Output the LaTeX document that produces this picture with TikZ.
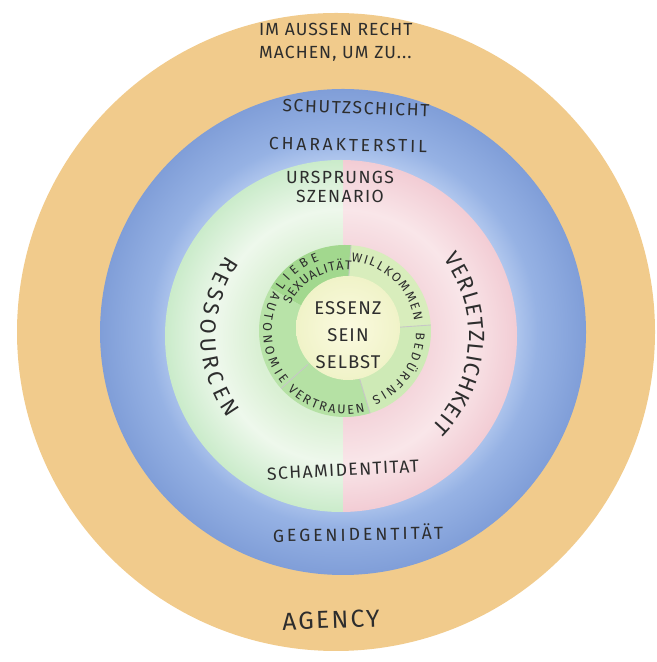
\documentclass[tikz,border=0pt]{standalone}
\usepackage{fontspec}
\setmainfont{Fira Sans}
\usetikzlibrary{decorations.text}

\definecolor{ink}{RGB}{45,45,45}
\definecolor{orangeband}{RGB}{241,203,140}
\definecolor{bluedark}{RGB}{128,158,216}
\definecolor{bluemid}{RGB}{150,178,228}
\definecolor{bluelight}{RGB}{178,200,238}
\definecolor{greenedge}{RGB}{202,235,202}
\definecolor{greenwhite}{RGB}{238,248,236}
\definecolor{greenpale}{RGB}{218,240,212}
\definecolor{pinkedge}{RGB}{242,204,212}
\definecolor{pinkwhite}{RGB}{249,230,233}
\definecolor{pinkpale}{RGB}{244,213,219}
\definecolor{ringgreen}{RGB}{184,227,168}
\definecolor{ringdark}{RGB}{162,216,142}
\definecolor{ringlight}{RGB}{216,237,188}
\definecolor{coreyellow}{RGB}{240,243,200}
\definecolor{corelight}{RGB}{251,250,224}

\pgfdeclareradialshading{blueband}{\pgfpoint{0bp}{0bp}}{%
  color(0bp)=(bluelight); color(17.5bp)=(bluelight); color(20bp)=(bluemid);
  color(25bp)=(bluedark); color(50bp)=(bluedark)}
\pgfdeclareradialshading{greenband}{\pgfpoint{0bp}{0bp}}{%
  color(0bp)=(greenpale); color(12bp)=(greenpale); color(18bp)=(greenwhite);
  color(25bp)=(greenedge); color(50bp)=(greenedge)}
\pgfdeclareradialshading{pinkband}{\pgfpoint{0bp}{0bp}}{%
  color(0bp)=(pinkpale); color(12bp)=(pinkpale); color(18bp)=(pinkwhite);
  color(25bp)=(pinkedge); color(50bp)=(pinkedge)}

\begin{document}
\begin{tikzpicture}[
    x=0.02cm, y=0.02cm,
    lbl/.style={text=ink, font=\fontsize{10}{12}\selectfont\addfontfeature{LetterSpace=#1}},
    lbl/.default=6,
    ringtext/.style={decorate, decoration={text along path, text align={fit to path}, text color=ink, text={|\fontsize{7.2}{8}\selectfont|#1}}},
    bigtext/.style={decorate, decoration={text along path, text align={fit to path}, text color=ink, text={|\fontsize{12.5}{14}\selectfont|#1}}},
    divider/.style={draw=black!22, line width=0.5pt}
]
\useasboundingbox (0,0) rectangle (656,662);

% centres of the rings
\coordinate (O) at (336,330);
\coordinate (B) at (343,330);
\coordinate (M) at (341,326);
\coordinate (I) at (345,331);
\coordinate (K) at (348,334);

% Agency and Schutzschicht
\fill[orangeband] (O) circle (319);
\shade[shading=blueband] (B) circle (243);

% Ursprungsszenario: Ressourcen | Verletzlichkeit
\begin{scope}
\clip (0,0) rectangle (343,662);
\shade[shading=greenband] (M) circle (176);
\end{scope}
\begin{scope}
\clip (343,0) rectangle (656,662);
\shade[shading=pinkband] (M) circle (176);
\end{scope}

% inner ring
\fill[ringlight] (I) -- ++(4:86) arc[start angle=4, end angle=86, radius=86] -- cycle;
\fill[ringdark] (I) -- ++(86:86) arc[start angle=86, end angle=150, radius=86] -- cycle;
\fill[ringgreen] (I) -- ++(150:86) arc[start angle=150, end angle=222, radius=86] -- cycle;
\fill[ringgreen!85!ringdark] (I) -- ++(222:86) arc[start angle=222, end angle=287, radius=86] -- cycle;
\fill[ringlight!70!ringgreen] (I) -- ++(287:86) arc[start angle=287, end angle=364, radius=86] -- cycle;
\foreach \a in {4,86,222,287}
  \draw[divider] ([shift={(\a:50)}]I) -- ([shift={(\a:86)}]I);

% core
\shade[inner color=corelight, outer color=coreyellow] (K) circle (52);

% labels
\node[lbl=6, align=left, anchor=west, font=\fontsize{10}{13}\selectfont\addfontfeature{LetterSpace=6}] (aussen) at (253,620)
    {IM AUSSEN RECHT\\MACHEN, UM ZU...};
\node[lbl=9, rotate=-2] (schutz) at (356,554) {SCHUTZSCHICHT};
\node[lbl=16, rotate=-1] (charakter) at (348,517) {CHARAKTERSTIL};
\node[lbl=8, align=center, font=\fontsize{10}{11}\selectfont\addfontfeature{LetterSpace=8}] (ursprung) at (340,475)
    {URSPRUNGS\\SZENARIO};
\node[lbl=8, rotate=3] (scham) at (343,192) {SCHAMIDENTITAT};
\node[lbl=17, rotate=1] (gegen) at (358,129) {GEGENIDENTITÄT};
\node[text=ink, rotate=2, font=\fontsize{14}{16}\selectfont\addfontfeature{LetterSpace=9}] (agency) at (331,42) {AGENCY};
\node[text=ink, align=center, font=\fontsize{10.5}{15.3}\selectfont\addfontfeature{LetterSpace=6}] (essenz) at (348,327)
    {ESSENZ\\SEIN\\SELBST};

% curved labels
\path[bigtext=RESSOURCEN] (M) ++(145:140) arc[start angle=145, end angle=216, radius=140];
\path[bigtext=VERLETZLICHKEIT] (M) ++(37:128) arc[start angle=37, end angle=-45, radius=128];
\path[ringtext=WILLKOMMEN] (I) ++(85:70) arc[start angle=85, end angle=8, radius=70];
\path[ringtext=BEDÜRFNIS] (I) ++(-1:71) arc[start angle=-1, end angle=-68, radius=71];
\path[ringtext=VERTRAUEN] (I) ++(226:83) arc[start angle=226, end angle=284, radius=83];
\path[ringtext=AUTONOMIE] (I) ++(151:82) arc[start angle=151, end angle=220, radius=82];
\path[ringtext=LIEBE] (I) ++(147:75) arc[start angle=147, end angle=110, radius=75];
\path[ringtext=SEXUALITÄT] (I) ++(154:61) arc[start angle=154, end angle=84, radius=61];
\end{tikzpicture}
\end{document}
